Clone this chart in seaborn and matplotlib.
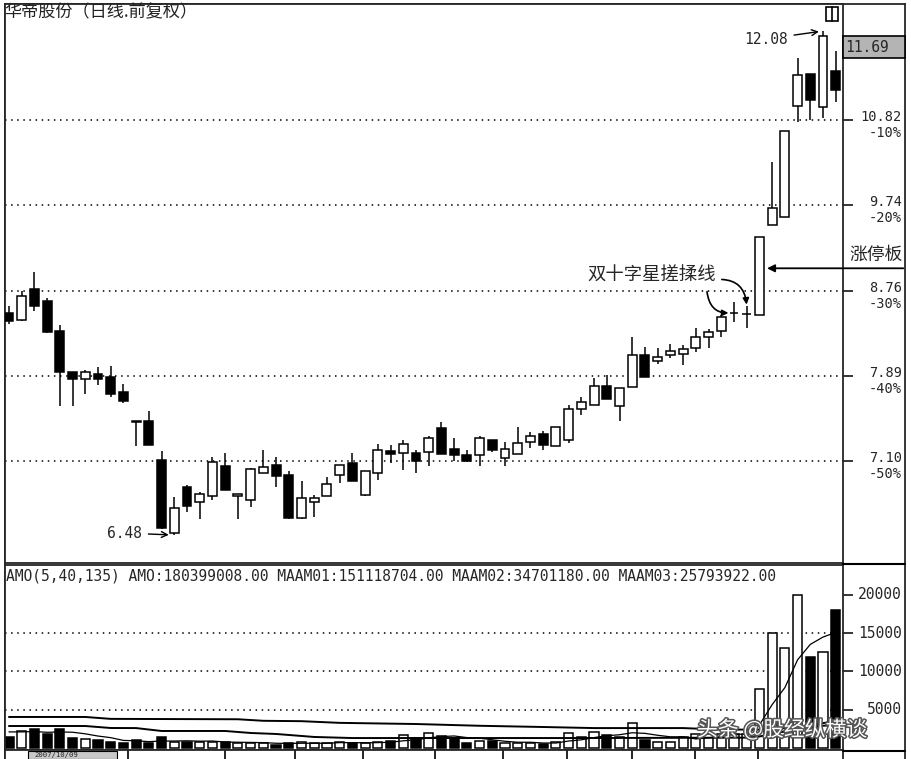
import numpy as np
import pandas as pd
import matplotlib
matplotlib.use("Agg")
import matplotlib.pyplot as plt
import matplotlib.patheffects as pe
from matplotlib.patches import Rectangle
from matplotlib.lines import Line2D
from matplotlib.ticker import NullLocator
import seaborn as sns

#%% ============================================ #
# DATA (66 daily bars)
# ============================================ #
opens = [8.53, 8.45, 8.78, 8.65, 8.34, 7.93, 7.86, 7.91, 7.88, 7.73,
         7.46, 7.46, 7.11, 6.50, 6.88, 6.75, 6.80, 7.06, 6.80, 6.77,
         7.00, 7.07, 6.98, 6.62, 6.75, 6.80, 6.98, 7.08, 6.81, 7.00,
         7.19, 7.17, 7.17, 7.18, 7.40, 7.21, 7.15, 7.15, 7.29, 7.13,
         7.16, 7.27, 7.34, 7.23, 7.29, 7.57, 7.61, 7.79, 7.60, 7.78,
         8.09, 8.03, 8.09, 8.10, 8.16, 8.28, 8.34, 8.53, 8.52, 8.51,
         9.50, 9.60, 11.01, 11.45, 11.00, 11.50]
highs = [8.60, 8.76, 8.97, 8.69, 8.40, 7.93, 7.95, 7.98, 7.99, 7.81,
         7.46, 7.55, 7.19, 6.79, 6.89, 6.83, 7.14, 7.17, 6.82, 7.04,
         7.20, 7.14, 7.01, 6.93, 6.81, 6.96, 7.07, 7.17, 7.01, 7.25,
         7.24, 7.29, 7.20, 7.32, 7.45, 7.31, 7.20, 7.32, 7.29, 7.27,
         7.41, 7.36, 7.37, 7.41, 7.61, 7.69, 7.87, 7.90, 7.77, 8.28,
         8.18, 8.17, 8.21, 8.20, 8.37, 8.36, 8.50, 8.64, 8.60, 9.37,
         10.27, 10.68, 11.68, 11.46, 12.08, 11.78]
lows = [8.41, 8.44, 8.55, 8.32, 7.60, 7.60, 7.71, 7.80, 7.69, 7.63,
        7.23, 7.24, 6.53, 6.48, 6.67, 6.61, 6.77, 6.85, 6.61, 6.71,
        7.00, 6.88, 6.61, 6.61, 6.63, 6.80, 6.91, 6.93, 6.80, 6.94,
        7.08, 7.02, 7.00, 7.06, 7.16, 7.10, 7.09, 7.06, 7.18, 7.06,
        7.16, 7.22, 7.20, 7.23, 7.26, 7.52, 7.61, 7.67, 7.46, 7.78,
        7.88, 8.01, 8.06, 8.00, 8.12, 8.17, 8.28, 8.43, 8.37, 8.51,
        9.50, 9.60, 10.79, 10.82, 10.85, 11.06]
closes = [8.44, 8.71, 8.60, 8.33, 7.93, 7.86, 7.93, 7.86, 7.71, 7.65,
          7.45, 7.24, 6.54, 6.70, 6.72, 6.82, 7.09, 6.85, 6.82, 7.03,
          7.05, 6.97, 6.62, 6.78, 6.78, 6.90, 7.07, 6.93, 7.01, 7.20,
          7.16, 7.25, 7.10, 7.31, 7.16, 7.15, 7.10, 7.31, 7.20, 7.21,
          7.26, 7.32, 7.24, 7.41, 7.57, 7.64, 7.79, 7.67, 7.77, 8.09,
          7.88, 8.07, 8.13, 8.15, 8.28, 8.33, 8.48, 8.53, 8.52, 9.37,
          9.71, 10.68, 11.44, 11.09, 12.00, 11.23]

amount = [1440, 2220, 2480, 1830, 2480, 1300, 1170, 1040, 780, 650,
          1040, 650, 1440, 780, 780, 780, 780, 780, 650, 650,
          650, 390, 650, 780, 650, 650, 780, 650, 650, 780,
          910, 1700, 1300, 1960, 1570, 1300, 650, 910, 910, 650,
          650, 650, 520, 780, 1960, 1440, 2090, 1700, 1440, 3260,
          1040, 780, 780, 1440, 1830, 1830, 1830, 1830, 1830, 7700,
          15000, 13000, 20000, 11900, 12500, 18000]
ma5 = [2100, 2100, 2150, 2050, 2090, 2060, 1850, 1560, 1350, 990,
       940, 830, 910, 910, 940, 890, 910, 780, 750, 730,
       700, 620, 600, 620, 620, 620, 700, 700, 680, 700,
       750, 940, 1070, 1330, 1490, 1570, 1360, 1280, 1070, 880,
       750, 750, 650, 650, 910, 1070, 1360, 1600, 1730, 1990,
       1910, 1660, 1460, 1460, 1180, 1330, 1540, 1750, 1830, 3010,
       5660, 7880, 11510, 13520, 14480, 15080]
ma40_idx = [0, 6, 8, 10, 12, 17, 19, 21, 24, 27, 45, 58, 59, 60, 61, 62, 63, 64, 65]
ma40_val = [2870, 2870, 2610, 2600, 2220, 2220, 1960, 1830, 1440, 1300, 1300,
            1350, 1500, 1850, 2150, 2650, 2950, 3250, 3500]
ma135_idx = [0, 6, 8, 18, 20, 23, 26, 32, 37, 42, 46, 53, 56, 59, 65]
ma135_val = [4050, 4050, 3800, 3750, 3550, 3500, 3280, 3130, 2900, 2740,
             2600, 2600, 2400, 2400, 3000]

price_ticks = [10.82, 9.74, 8.76, 7.89, 7.10]
pct_labels = ['-10%', '-20%', '-30%', '-40%', '-50%']
vol_ticks = [20000, 15000, 10000, 5000]
vol_grid = [15000, 10000, 5000]
week_marks = [9.36, 16.98, 22.48, 27.83, 33.49, 38.84, 43.87, 48.98, 53.93, 58.88]

title = '华帝股份（日线.前复权）'
amo_header = ('AMO(5,40,135) AMO:180399008.00 MAAM01:151118704.00 '
              'MAAM02:34701180.00 MAAM03:25793922.00')
last_price = '11.69'
note_cross = '双十字星搓揉线'
note_limit = '涨停板'
watermark = '头条 @股经纵横谈'
first_date = '2007/10/09'

df = pd.DataFrame(dict(o=opens, h=highs, l=lows, c=closes, amo=amount, ma5=ma5))
df['i'] = np.arange(len(df))
df['dir'] = np.where(df['c'] >= df['o'], 'up', 'down')

#%% ============================================ #
# FIGURE
# ============================================ #
sns.set_style('white')
plt.rcParams['font.family'] = ['DejaVu Sans Mono', 'Noto Sans CJK SC']
plt.rcParams['axes.linewidth'] = 1.3
cjk = ['Noto Sans CJK SC', 'DejaVu Sans']

W, H = 911, 759
def box(x0, y0, x1, y1):
    return [x0 / W, 1 - y1 / H, (x1 - x0) / W, (y1 - y0) / H]

fig = plt.figure(figsize=(W / 100, H / 100), dpi=100)
fig.patch.set_facecolor('white')

frame = fig.add_axes(box(5, 4, 905, 760))
frame.set_xticks([]); frame.set_yticks([])
frame.spines['bottom'].set_visible(False)

ax = fig.add_axes(box(5, 4, 843, 563))
axv = fig.add_axes(box(5, 565, 843, 750))
axd = fig.add_axes(box(5, 750, 843, 760))
xlim = (-0.31, 65.57)

# ---- candles ----
ax.set_yscale('log')
up = df['dir'] == 'up'
ax.vlines(df['i'], df['l'], df['h'], color='black', lw=1.1, zorder=2)
ax.bar(df['i'], df['c'] - df['o'], bottom=df['o'], width=0.7,
       color=np.where(up, 'white', 'black'), edgecolor='black', lw=1.1, zorder=3)
ax.set_xlim(xlim)
ax.set_ylim(6.26, 12.49)
ax.set_xticks([])
ax.set_yticks(price_ticks)
ax.yaxis.set_minor_locator(NullLocator())
ax.tick_params(axis='y', which='both', left=False, right=True, labelleft=False,
               labelright=False, direction='out', length=7, width=1.3)

ytr = ax.get_yaxis_transform()
for p, pct in zip(price_ticks, pct_labels):
    ax.axhline(p, color='black', lw=1.1, ls=(0, (1, 3)), zorder=1)
    ax.annotate(f'{p:.2f}', xy=(1, p), xycoords=ytr, xytext=(59, 3),
                textcoords='offset pixels', ha='right', va='center',
                fontsize=9.8, annotation_clip=False)
    ax.annotate(pct, xy=(1, p), xycoords=ytr, xytext=(59, -13),
                textcoords='offset pixels', ha='right', va='center',
                fontsize=9.8, annotation_clip=False)

# high / low marks
hi_i = int(np.argmax(highs))
lo_i = int(np.argmin(lows))
ax.annotate(f'{highs[hi_i]:.2f}', xy=(hi_i, highs[hi_i]), xytext=(-35, -8),
            textcoords='offset pixels', ha='right', va='center', fontsize=10.5,
            arrowprops=dict(arrowstyle='->', lw=1, color='black',
                            shrinkA=2, shrinkB=3))
ax.annotate(f'{lows[lo_i]:.2f}', xy=(lo_i, lows[lo_i]), xytext=(-32, 2),
            textcoords='offset pixels', ha='right', va='center', fontsize=10.5,
            arrowprops=dict(arrowstyle='->', lw=1, color='black',
                            shrinkA=2, shrinkB=4))

# double doji note
ax.annotate(note_cross, xy=(58, highs[58]), xytext=(-31, 30),
            textcoords='offset pixels', ha='right', va='center',
            fontsize=13.2, family=cjk,
            arrowprops=dict(arrowstyle='-|>', lw=1.2, color='black',
                            mutation_scale=9, relpos=(1, 0.3),
                            connectionstyle='arc3,rad=-0.5', shrinkA=2, shrinkB=1))
ax.annotate('', xy=(57, closes[57]), xytext=(-27, 21),
            textcoords='offset pixels',
            arrowprops=dict(arrowstyle='-|>', lw=1.2, color='black',
                            mutation_scale=9,
                            connectionstyle='arc3,rad=0.5', shrinkA=0, shrinkB=4))

# limit up note
ax.annotate('', xy=(59.6, 9.01), xytext=(1.072, 9.01),
            textcoords=('axes fraction', 'data'), annotation_clip=False,
            arrowprops=dict(arrowstyle='-|>', lw=1.3, color='black',
                            mutation_scale=11, shrinkA=0, shrinkB=0))
ax.text(1.008, 9.16, note_limit, transform=ytr, fontsize=12.8, family=cjk,
        ha='left', va='center')

# small icon top right
ax.add_patch(Rectangle((0.9797, 0.9696), 0.0143, 0.025, transform=ax.transAxes,
                       facecolor='white', edgecolor='black', lw=1.2, zorder=5))
ax.add_line(Line2D([0.9869, 0.9869], [0.9696, 0.9946], transform=ax.transAxes,
                   color='black', lw=1.2, zorder=6))

# ---- amount panel ----
sns.barplot(data=df, x='i', y='amo', hue='dir', palette={'up': 'white', 'down': 'black'},
            edgecolor='black', linewidth=1.1, width=0.72, dodge=False,
            native_scale=True, errorbar=None, legend=False, saturation=1,
            ax=axv, zorder=2)
sns.lineplot(x=ma135_idx, y=ma135_val, color='black', lw=1.4, ax=axv, zorder=4)
sns.lineplot(x=ma40_idx, y=ma40_val, color='black', lw=1.4, ax=axv, zorder=4)
sns.lineplot(data=df, x='i', y='ma5', color='black', lw=0.9, ax=axv, zorder=4)
axv.set_xlim(xlim)
axv.set_ylim(-261, 23880)
axv.set(xlabel='', ylabel='')
axv.set_xticks([])
axv.set_yticks(vol_ticks)
axv.tick_params(axis='y', left=False, right=True, labelleft=False, labelright=False,
                direction='out', length=7, width=1.3)
vtr = axv.get_yaxis_transform()
for v in vol_grid:
    axv.axhline(v, color='black', lw=1.1, ls=(0, (1, 3)), zorder=1)
for v in vol_ticks:
    axv.annotate(f'{v}', xy=(1, v), xycoords=vtr, xytext=(59, 0),
                 textcoords='offset pixels', ha='right', va='center',
                 fontsize=10.5, annotation_clip=False)
axv.text(0.001, 0.94, amo_header, transform=axv.transAxes, fontsize=10.5,
         ha='left', va='center')

# ---- date strip ----
axd.set_xlim(xlim)
axd.set_ylim(0, 1)
axd.set_xticks([]); axd.set_yticks([])
axd.vlines(week_marks, 0, 1, color='black', lw=1.2)
axd.add_patch(Rectangle((1.5, 0.12), 7.0, 0.8, facecolor='#c8c8c8',
                        edgecolor='black', lw=0.8))
axd.text(2.0, 0.5, first_date, fontsize=5.2, ha='left', va='center', color='#222222')

# ---- right column decorations ----
for yy in (563.5, 750.5):
    fig.add_artist(Line2D([843 / W, 905 / W], [1 - yy / H] * 2, color='black', lw=1.5))
fig.add_artist(Rectangle((843 / W, 1 - 58 / H), 62 / W, 22 / H, facecolor='#b4b4b4',
                         edgecolor='black', lw=1.2, transform=fig.transFigure))
fig.text(845 / W, 1 - 47 / H, last_price, fontsize=10.5, ha='left', va='center')

fig.text(4 / W, 1 - 12 / H, title, family=cjk, fontsize=12.3, ha='left', va='center',
         color='#222222')
fig.text(697 / W, 1 - 730 / H, watermark, family=cjk, fontsize=15, ha='left',
         va='center', color='white',
         path_effects=[pe.withStroke(linewidth=2.2, foreground='#555555')])

fig.savefig('out.png', dpi=100, facecolor='white')
